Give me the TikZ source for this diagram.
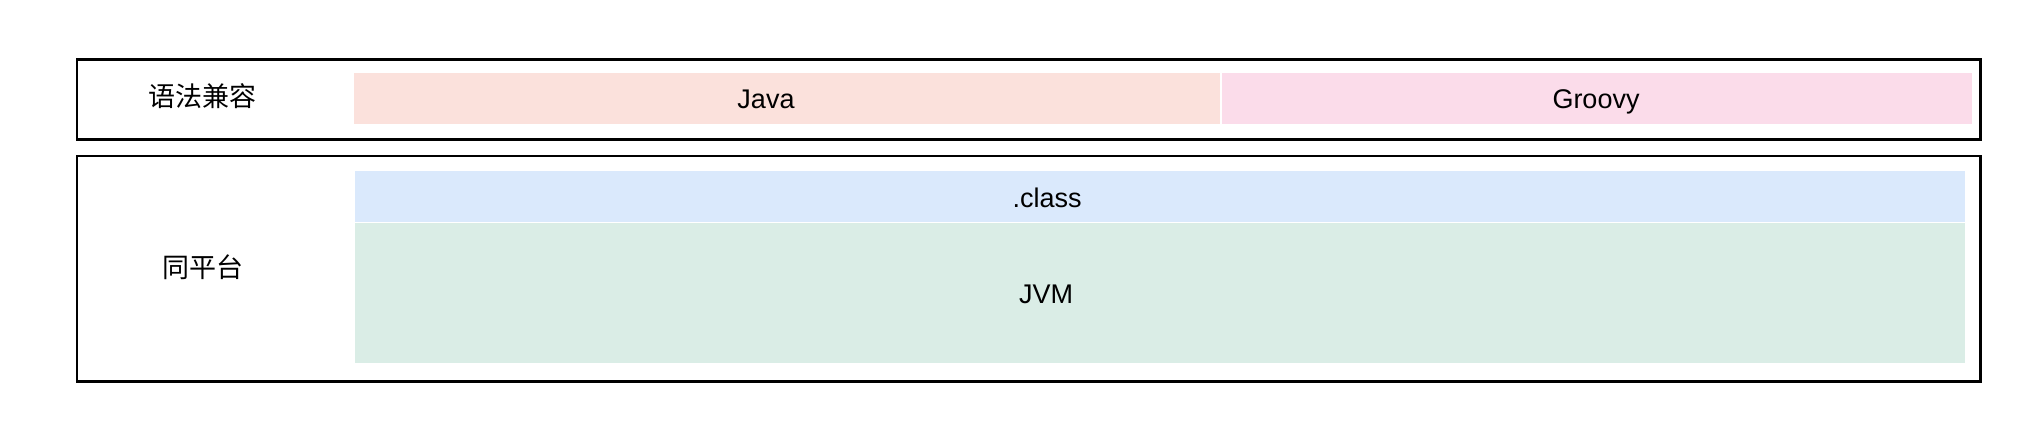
\documentclass[tikz,border=0pt]{standalone}
\usepackage{fontspec}
\setmainfont{Liberation Sans}
\newfontfamily\cjk{Noto Sans CJK SC}
\definecolor{javafill}{RGB}{251,225,220}
\definecolor{groovyfill}{RGB}{251,220,234}
\definecolor{classfill}{RGB}{218,233,252}
\definecolor{jvmfill}{RGB}{218,237,230}

\begin{document}
\begin{tikzpicture}[x=0.5pt,y=-0.5pt,
  layerbox/.style={draw=black,line width=1.35pt,inner sep=0pt,anchor=north west,minimum width=951.9pt},
  cellbox/.style={inner sep=0pt,anchor=north west},
  celltext/.style={font=\fontsize{13.5pt}{16pt}\selectfont,anchor=base,inner sep=0pt},
  rowtext/.style={font=\cjk\fontsize{13.5pt}{16pt}\selectfont,inner sep=0pt}]
  \useasboundingbox (0,0) rectangle (2042,428);
  % the two layers
  \node[layerbox,minimum height=40pt] (syntax) at (75.5,58) {};
  \node[layerbox,minimum height=112.9pt] (platform) at (75.5,154.5) {};
  % cells
  \node[cellbox,fill=javafill,minimum width=433pt,minimum height=25.5pt] (java) at (354,72.7) {};
  \node[cellbox,fill=groovyfill,minimum width=375pt,minimum height=25.5pt] (groovy) at (1222,72.7) {};
  \node[cellbox,fill=classfill,minimum width=805pt,minimum height=25.35pt] (class) at (355,171) {};
  \node[cellbox,fill=jvmfill,minimum width=805pt,minimum height=69.85pt] (jvm) at (355,223) {};
  % texts
  \node[rowtext] (syntaxlabel) at (202.5,96) {语法兼容};
  \node[rowtext] (platformlabel) at (202.5,267.5) {同平台};
  \foreach \name/\x/\y/\t in {javalabel/766/108.3/Java,groovylabel/1596/108/Groovy,classlabel/1047/207.3/.class,jvmlabel/1046/303.3/JVM}
  {
    \node[celltext] (\name) at (\x,\y) {\t};
  }
\end{tikzpicture}
\end{document}
